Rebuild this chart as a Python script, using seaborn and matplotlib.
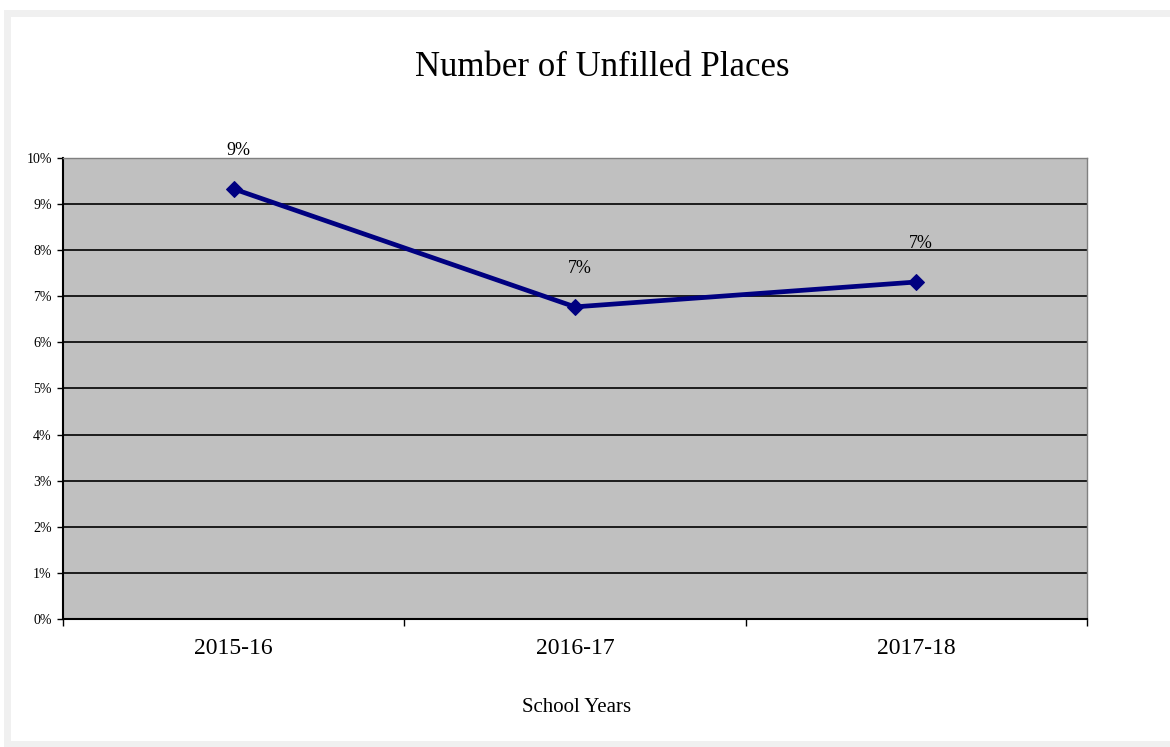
import pandas as pd
import seaborn as sns
import matplotlib.pyplot as plt
from matplotlib.patches import Rectangle
from matplotlib.ticker import FixedLocator, FuncFormatter

# values (percent)
years = ["2015-16", "2016-17", "2017-18"]
unfilled_pct = [9.33, 6.77, 7.31]
point_labels = ["9%", "7%", "7%"]

df = pd.DataFrame({"School Year": years, "Unfilled": unfilled_pct})

sns.set_theme(style="white")
plt.rcParams["font.family"] = ["Liberation Serif", "DejaVu Serif"]
plt.rcParams["text.color"] = "black"
plt.rcParams["xtick.color"] = "black"
plt.rcParams["ytick.color"] = "black"

fig = plt.figure(figsize=(11.7, 7.47), dpi=100)
fig.patch.set_facecolor("white")
# faint grey frame around the chart area
fig.patches.append(Rectangle((0.006, 0.004), 1.0, 0.978, transform=fig.transFigure,
                             facecolor="white", edgecolor="#f0f0f0", linewidth=5, zorder=-1))

ax = fig.add_axes([0.0538, 0.1714, 0.8752, 0.6171])
ax.set_facecolor("#c0c0c0")

sns.lineplot(data=df, x="School Year", y="Unfilled", ax=ax, color="#000080",
             linewidth=3.4, marker="D", markersize=8, markeredgecolor="#000080",
             sort=False, zorder=3)

for i, (v, lab) in enumerate(zip(unfilled_pct, point_labels)):
    ax.annotate(lab, (i, v), xytext=(5, 38), textcoords="offset pixels",
                ha="center", va="center", fontsize=13, color="black")

ax.set_xlim(-0.5, 2.5)
ax.set_ylim(0, 10)
ax.yaxis.set_major_locator(FixedLocator(range(0, 11)))
ax.yaxis.set_major_formatter(FuncFormatter(lambda v, p: f"{int(v)}%"))
ax.grid(axis="y", color="black", linewidth=1.2)
ax.grid(axis="x", visible=False)
ax.set_axisbelow(True)

ax.tick_params(axis="y", labelsize=10, length=4, width=1, left=True, color="black", pad=4)
ax.tick_params(axis="x", which="major", labelsize=17, length=0, pad=14)
ax.xaxis.set_minor_locator(FixedLocator([-0.5, 0.5, 1.5, 2.5]))
ax.tick_params(axis="x", which="minor", length=5, width=1, bottom=True, color="black")

for side in ["left", "bottom"]:
    ax.spines[side].set_color("black")
    ax.spines[side].set_linewidth(1.5)
for side in ["top", "right"]:
    ax.spines[side].set_color("#808080")
    ax.spines[side].set_linewidth(1.0)

ax.set_xlabel("")
ax.set_ylabel("")

fig.text(0.515, 0.91, "Number of Unfilled Places", ha="center", va="center", fontsize=25)
fig.text(0.493, 0.053, "School Years", ha="center", va="center", fontsize=15)

fig.savefig("out.png", dpi=100)
